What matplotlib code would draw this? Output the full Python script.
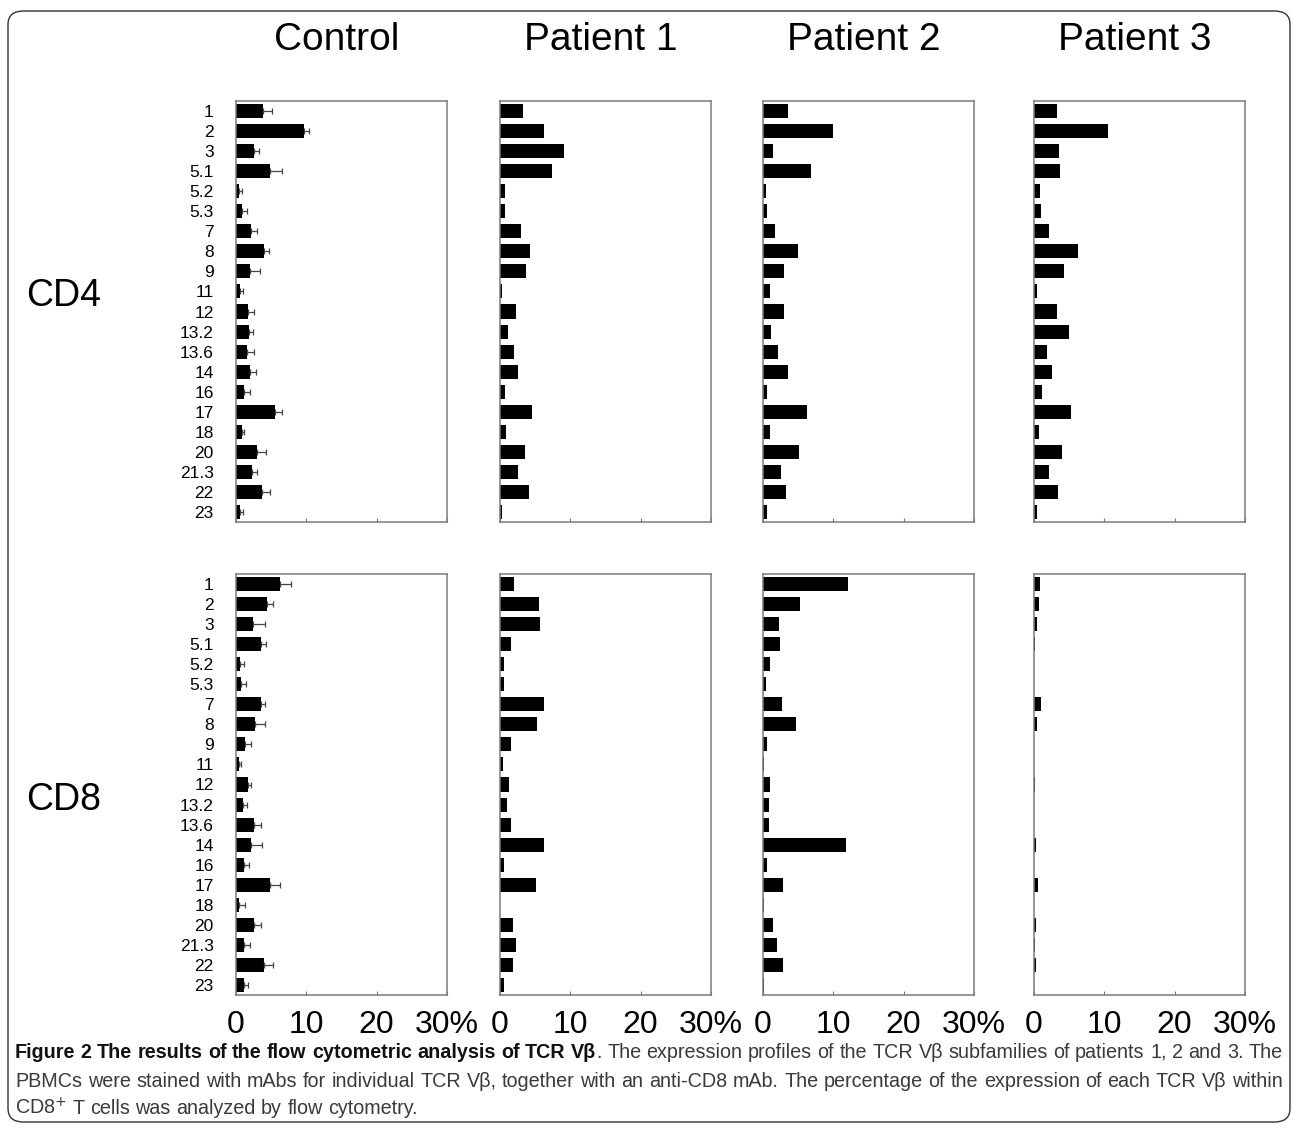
import matplotlib
matplotlib.use('Agg')
import matplotlib.pyplot as plt
from matplotlib.patches import FancyBboxPatch
import numpy as np

# TCR Vbeta subfamilies (rows) and groups (columns)
subfamilies = ['1', '2', '3', '5.1', '5.2', '5.3', '7', '8', '9', '11', '12',
               '13.2', '13.6', '14', '16', '17', '18', '20', '21.3', '22', '23']
groups = ['Control', 'Patient 1', 'Patient 2', 'Patient 3']
x_ticks = [0, 10, 20, 30]
x_ticklabels = ['0', '10', '20', '30%']

# CD4 (% of cells)
cd4_control = [3.85, 9.6, 2.6, 4.8, 0.4, 0.85, 2.2, 4.0, 2.0, 0.55, 1.7,
               1.9, 1.6, 2.0, 1.2, 5.5, 0.85, 3.0, 2.3, 3.7, 0.5]
cd4_control_err = [1.3, 0.8, 0.6, 1.7, 0.5, 0.65, 0.75, 0.7, 1.4, 0.45, 0.9,
                   0.55, 0.9, 0.8, 0.85, 1.0, 0.35, 1.2, 0.75, 1.1, 0.5]
cd4_patient1 = [3.2, 6.2, 9.1, 7.4, 0.65, 0.65, 3.05, 4.2, 3.75, 0.35, 2.3,
                1.2, 2.05, 2.5, 0.65, 4.6, 0.85, 3.5, 2.5, 4.1, 0.3]
cd4_patient2 = [3.5, 9.9, 1.45, 6.8, 0.45, 0.6, 1.7, 5.0, 3.0, 0.95, 3.0,
                1.1, 2.1, 3.5, 0.6, 6.3, 0.95, 5.1, 2.6, 3.3, 0.5]
cd4_patient3 = [3.3, 10.5, 3.5, 3.7, 0.85, 1.0, 2.2, 6.2, 4.3, 0.4, 3.2,
                5.0, 1.9, 2.5, 1.2, 5.3, 0.65, 4.0, 2.2, 3.35, 0.45]

# CD8 (% of cells)
cd8_control = [6.2, 4.4, 2.35, 3.6, 0.55, 0.65, 3.6, 2.7, 1.3, 0.4, 1.75,
               0.95, 2.5, 2.15, 1.15, 4.9, 0.45, 2.5, 1.15, 4.0, 1.1]
cd8_control_err = [1.6, 0.9, 1.8, 0.7, 0.55, 0.75, 0.5, 1.4, 0.8, 0.35, 0.45,
                   0.6, 1.1, 1.55, 0.65, 1.3, 0.8, 1.1, 0.9, 1.2, 0.6]
cd8_patient1 = [2.0, 5.6, 5.7, 1.6, 0.6, 0.55, 6.2, 5.3, 1.5, 0.4, 1.3,
                1.05, 1.6, 6.2, 0.6, 5.05, 0.0, 1.85, 2.3, 1.85, 0.6]
cd8_patient2 = [12.15, 5.2, 2.25, 2.35, 0.95, 0.45, 2.7, 4.7, 0.55, 0.1, 1.05,
                0.85, 0.85, 11.85, 0.55, 2.9, 0.1, 1.45, 1.95, 2.8, 0.1]
cd8_patient3 = [0.85, 0.65, 0.45, 0.1, 0.05, 0.05, 1.0, 0.45, 0.05, 0.05, 0.2,
                0.05, 0.05, 0.35, 0.05, 0.5, 0.05, 0.3, 0.2, 0.35, 0.05]

rows = [
    ('CD4', [cd4_control, cd4_patient1, cd4_patient2, cd4_patient3], cd4_control_err),
    ('CD8', [cd8_control, cd8_patient1, cd8_patient2, cd8_patient3], cd8_control_err),
]

W, H = 1293, 1128
fig = plt.figure(figsize=(W / 100, H / 100), dpi=100)
plt.rcParams['font.family'] = ['Liberation Sans', 'DejaVu Sans']

col_left = [236, 500, 763, 1034]
col_width = 211
row_top = [101, 574]
row_height = 421
gray = '#7a7a7a'

y = np.arange(len(subfamilies))
for r, (row_name, series, ctrl_err) in enumerate(rows):
    for c, vals in enumerate(series):
        ax = fig.add_axes([col_left[c] / W, 1 - (row_top[r] + row_height) / H,
                           col_width / W, row_height / H])
        if c == 0:
            ax.barh(y, vals, height=0.7, color='black',
                    xerr=[np.zeros(len(vals)), ctrl_err],
                    error_kw=dict(ecolor='#444444', elinewidth=0.9,
                                  capsize=2.2, capthick=0.9))
        else:
            ax.barh(y, vals, height=0.7, color='black')
        ax.set_xlim(0, 30)
        ax.set_ylim(len(subfamilies) - 0.5, -0.5)
        ax.set_xticks(x_ticks)
        if r == 1:
            ax.set_xticklabels(x_ticklabels, fontsize=23)
        else:
            ax.set_xticklabels([])
        ax.tick_params(axis='x', direction='in', length=3, color=gray, pad=11)
        ax.set_yticks(y)
        if c == 0:
            ax.set_yticklabels(subfamilies, fontsize=12.5)
        else:
            ax.set_yticklabels([])
        ax.tick_params(axis='y', length=0, pad=16)
        for sp in ax.spines.values():
            sp.set_color(gray)
            sp.set_linewidth(1.1)

# column headers and row labels
for c, name in enumerate(groups):
    fig.text((col_left[c] + col_width / 2 - 5) / W, 1 - 40 / H, name,
             fontsize=28, ha='center', va='center')
fig.text(64 / W, 1 - 296 / H, 'CD4', fontsize=27, ha='center', va='center')
fig.text(64 / W, 1 - 800 / H, 'CD8', fontsize=27, ha='center', va='center')

# rounded frame around the figure
frame = FancyBboxPatch((8 / W, 6 / H), 1282 / W, 1111 / H,
                       boxstyle='round,pad=0,rounding_size=0.012',
                       transform=fig.transFigure, fill=False,
                       edgecolor='#333333', linewidth=1.0)
fig.patches.append(frame)

# caption, justified word by word like the journal layout
bold_part = 'Figure 2 The results of the flow cytometric analysis of TCR V\u03b2'
rest_1 = 'The expression profiles of the TCR V\u03b2 subfamilies of patients 1, 2 and 3. The'
line_2 = ('PBMCs were stained with mAbs for individual TCR V\u03b2, together with an anti-CD8 mAb. '
          'The percentage of the expression of each TCR V\u03b2 within')
line_3 = 'CD8$^{+}$ T cells was analyzed by flow cytometry.'

tokens_1 = ([(w, True, True) for w in bold_part.split()] + [('.', False, False)]
            + [(w, False, True) for w in rest_1.split()])
tokens_2 = [(w, False, True) for w in line_2.split()]
tokens_3 = [(w, False, True) for w in line_3.split()]

renderer = fig.canvas.get_renderer()
x0, x1 = 15, 1283


def measure(text, bold, size):
    t = fig.text(0, 0, text, fontsize=size, fontweight='bold' if bold else 'normal')
    w = t.get_window_extent(renderer).width
    t.remove()
    return w


def natural_width(tokens, size):
    sp = measure('a b', False, size) - measure('ab', False, size)
    total = sum(measure(t, b, size) for t, b, _ in tokens)
    return total + sp * sum(1 for tk in tokens[1:] if tk[2])


# pick the largest size at which both full lines still fit
base = 12.0
fs = base * min((x1 - x0) * 0.995 / natural_width(tokens_1, base),
                (x1 - x0) * 0.995 / natural_width(tokens_2, base))
space_w = measure('a b', False, fs) - measure('ab', False, fs)


def place_line(tokens, ybase, justify):
    widths = [measure(t, b, fs) for t, b, _ in tokens]
    ngaps = sum(1 for tk in tokens[1:] if tk[2])
    gap = (x1 - x0 - sum(widths)) / ngaps if justify else space_w
    x = x0
    for i, ((text, bold, has_gap), w) in enumerate(zip(tokens, widths)):
        if i > 0 and has_gap:
            x += gap
        fig.text(x / W, 1 - ybase / H, text, fontsize=fs,
                 fontweight='bold' if bold else 'normal', va='baseline',
                 color='#111111' if bold else '#3a3a3a')
        x += w


place_line(tokens_1, 1058, True)
place_line(tokens_2, 1087, True)
place_line(tokens_3, 1114, False)

fig.savefig('out.png', dpi=100)
